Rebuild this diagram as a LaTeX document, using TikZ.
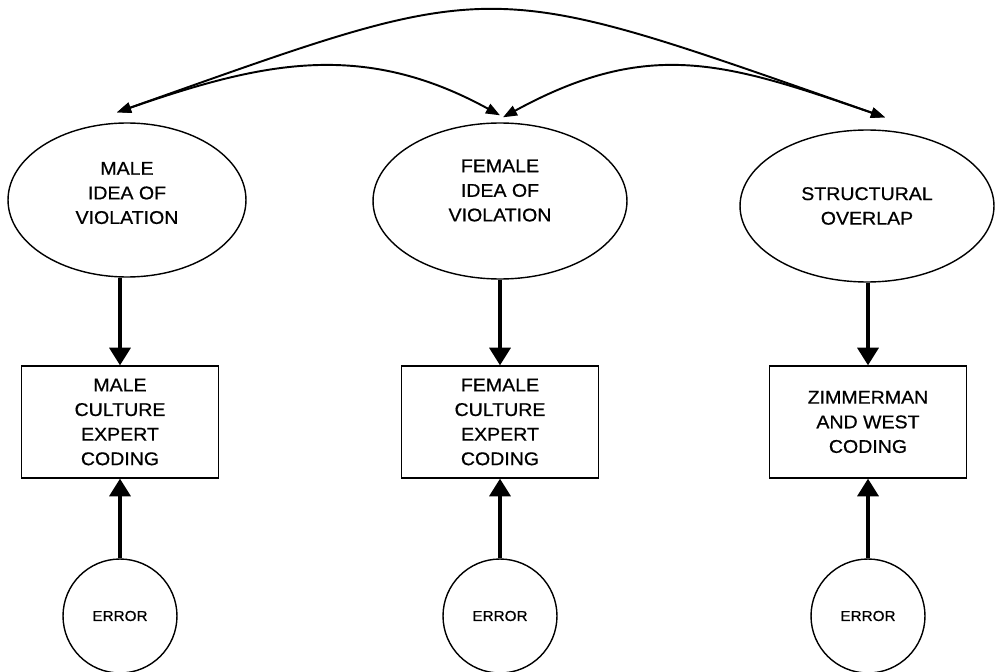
\documentclass[tikz,border=0pt]{standalone}
\usepackage{fontspec}
\setmainfont{Liberation Sans}[FakeStretch=1.06,FakeBold=0.6]
\usetikzlibrary{arrows.meta,shapes.geometric}
\begin{document}
\begin{tikzpicture}[x=0.02cm,y=-0.02cm,
  latent/.style={ellipse, draw, line width=0.8pt, inner sep=0pt, align=center,
    font=\fontsize{10.5}{14}\selectfont},
  obsbox/.style={rectangle, draw, line width=0.8pt, minimum width=3.94cm,
    minimum height=2.24cm, inner sep=0pt, align=center,
    font=\fontsize{10.5}{14}\selectfont},
  errc/.style={circle, draw, line width=0.8pt, minimum size=2.28cm, inner sep=0pt,
    font=\fontsize{8.2}{9}\selectfont},
  thickarr/.style={line width=1.8pt, -{Triangle[length=10pt,width=12pt]}},
  corr/.style={line width=1.1pt,
    {Triangle[length=8pt,width=6pt]}-{Triangle[length=8pt,width=6pt]}}]
\useasboundingbox (0,0) rectangle (997,672);

\node[latent, minimum width=4.76cm, minimum height=3.08cm, text depth=8pt] (m) at (127,200) {MALE\\IDEA OF\\VIOLATION};
\node[latent, minimum width=5.08cm, minimum height=3.12cm, text depth=12pt] (f) at (500,201) {FEMALE\\IDEA OF\\VIOLATION};
\node[latent, minimum width=5.08cm, minimum height=3.04cm] (s) at (867,206) {STRUCTURAL\\OVERLAP};

\node[obsbox] (mb) at (120,422) {MALE\\CULTURE\\EXPERT\\CODING};
\node[obsbox] (fb) at (500,422) {FEMALE\\CULTURE\\EXPERT\\CODING};
\node[obsbox] (sb) at (868,422) {ZIMMERMAN\\AND WEST\\CODING};

\node[errc] (me) at (120,616) {ERROR};
\node[errc] (fe) at (500,616) {ERROR};
\node[errc] (se) at (868,616) {ERROR};

\draw[thickarr] (m.south -| mb.north) -- (mb.north);
\draw[thickarr] (f) -- (fb);
\draw[thickarr] (s.south -| sb.north) -- (sb.north);

\draw[thickarr] (me) -- (mb);
\draw[thickarr] (fe) -- (fb);
\draw[thickarr] (se) -- (sb);

\coordinate (mt) at ([shift={(-10,-10)}]m.north);
\coordinate (ftl) at ([shift={(0,-7)}]f.north);
\coordinate (ftr) at ([shift={(3,-5)}]f.north);
\coordinate (st) at ([shift={(18,-12)}]s.north);

\draw[corr] (mt) .. controls (505,-25) and (478,-25) .. (st);
\draw[corr] (mt) .. controls (260,63) and (361,39) .. (ftl);
\draw[corr] (ftr) .. controls (650,37) and (727,63) .. (st);
\end{tikzpicture}
\end{document}
